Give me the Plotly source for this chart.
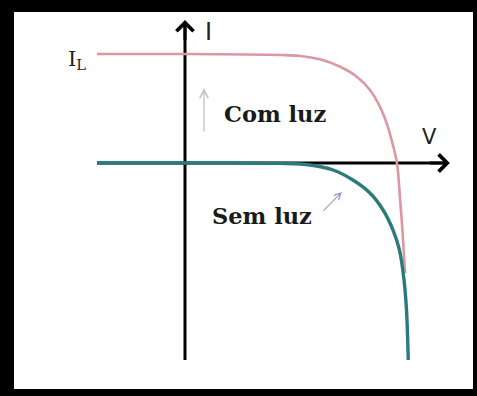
import plotly.graph_objects as go

# ---- data (V in volts, I normalised to I_L = 1) ----
v_light = [-0.248, 0.0, 0.268, 0.324, 0.380, 0.437, 0.484, 0.521, 0.549, 0.568, 0.582, 0.597, 0.606, 0.613, 0.620]
i_light = [1.0, 1.0, 0.991, 0.982, 0.951, 0.883, 0.792, 0.670, 0.517, 0.364, 0.211, 0.0, -0.339, -0.642, -1.009]

v_dark = [-0.248, 0.0, 0.268, 0.352, 0.417, 0.473, 0.521, 0.558, 0.586, 0.604, 0.616, 0.624, 0.627, 0.629]
i_dark = [0.0, 0.0, -0.003, -0.018, -0.064, -0.156, -0.275, -0.431, -0.615, -0.798, -1.046, -1.349, -1.596, -1.807]

# axis extents (data units)
V_AXIS = [-0.248, 0.746]
I_AXIS = [-1.807, 1.312]

PINK = "#dc97a1"
TEAL = "#2b7b7d"

fig = go.Figure()

fig.add_trace(go.Scatter(x=v_light, y=i_light, mode="lines",
                         line=dict(color=PINK, width=2.6, shape="spline", smoothing=1.0),
                         hoverinfo="skip", showlegend=False))
fig.add_trace(go.Scatter(x=v_dark, y=i_dark, mode="lines",
                         line=dict(color=TEAL, width=3.4, shape="spline", smoothing=1.0),
                         hoverinfo="skip", showlegend=False))

shapes = [
    # axes (below traces)
    dict(type="line", xref="x", yref="y", x0=V_AXIS[0], x1=V_AXIS[1] - 0.02, y0=0, y1=0,
         line=dict(color="black", width=3), layer="below"),
    dict(type="line", xref="x", yref="y", x0=0, x1=0, y0=I_AXIS[0], y1=I_AXIS[1] - 0.05,
         line=dict(color="black", width=3), layer="below"),
    # black frame of the picture
    dict(type="rect", xref="paper", yref="paper", x0=0, x1=1, y0=1 - 12 / 396, y1=1,
         fillcolor="black", line=dict(width=0)),
    dict(type="rect", xref="paper", yref="paper", x0=0, x1=14 / 477, y0=0, y1=1,
         fillcolor="black", line=dict(width=0)),
    dict(type="rect", xref="paper", yref="paper", x0=0, x1=1, y0=0, y1=7 / 396,
         fillcolor="black", line=dict(width=0)),
    dict(type="rect", xref="paper", yref="paper", x0=1 - 4 / 477, x1=1, y0=0, y1=1,
         fillcolor="black", line=dict(width=0)),
]

annotations = [
    # axis arrowheads
    dict(x=V_AXIS[1], y=0, ax=V_AXIS[1] - 0.06, ay=0, xref="x", yref="y", axref="x", ayref="y",
         text="", showarrow=True, arrowhead=4, arrowsize=1.1, arrowwidth=3, arrowcolor="black"),
    dict(x=0, y=I_AXIS[1], ax=0, ay=I_AXIS[1] - 0.2, xref="x", yref="y", axref="x", ayref="y",
         text="", showarrow=True, arrowhead=4, arrowsize=1.1, arrowwidth=3, arrowcolor="black"),
    # small hint arrows
    dict(x=0.0535, y=0.688, ax=0.0535, ay=0.275, xref="x", yref="y", axref="x", ayref="y",
         text="", showarrow=True, arrowhead=5, arrowsize=1.2, arrowwidth=1.4, arrowcolor="#c4c4c4"),
    dict(x=0.442, y=-0.266, ax=0.386, ay=-0.450, xref="x", yref="y", axref="x", ayref="y",
         text="", showarrow=True, arrowhead=5, arrowsize=1.2, arrowwidth=1.1, arrowcolor="#8f9cbc"),
    # labels
    dict(x=0.0648, y=1.20, xref="x", yref="y", text="I", showarrow=False,
         font=dict(family="DejaVu Sans", size=24, color="#222222")),
    dict(x=0.689, y=0.243, xref="x", yref="y", text="V", showarrow=False,
         font=dict(family="DejaVu Sans", size=21, color="#222222")),
    dict(x=-0.303, y=0.945, xref="x", yref="y", text="I<sub>L</sub>", showarrow=False,
         font=dict(family="DejaVu Serif", size=21, color="#222222")),
    dict(x=0.2535, y=0.4495, xref="x", yref="y", text="<b>Com luz</b>", showarrow=False,
         font=dict(family="DejaVu Serif", size=22.5, color="#1a1a1a")),
    dict(x=0.217, y=-0.486, xref="x", yref="y", text="<b>Sem luz</b>", showarrow=False,
         font=dict(family="DejaVu Serif", size=22.5, color="#1a1a1a")),
]

fig.update_layout(
    width=477, height=396,
    margin=dict(l=0, r=0, t=0, b=0),
    paper_bgcolor="white", plot_bgcolor="white",
    xaxis=dict(range=[-185 / 355, 292 / 355], visible=False, fixedrange=True),
    yaxis=dict(range=[-233 / 109, 163 / 109], visible=False, fixedrange=True),
    shapes=shapes, annotations=annotations, showlegend=False,
)

fig.write_html("out.html", config={"displayModeBar": False},
               post_script="document.body.style.margin='0';document.body.style.padding='0';")
